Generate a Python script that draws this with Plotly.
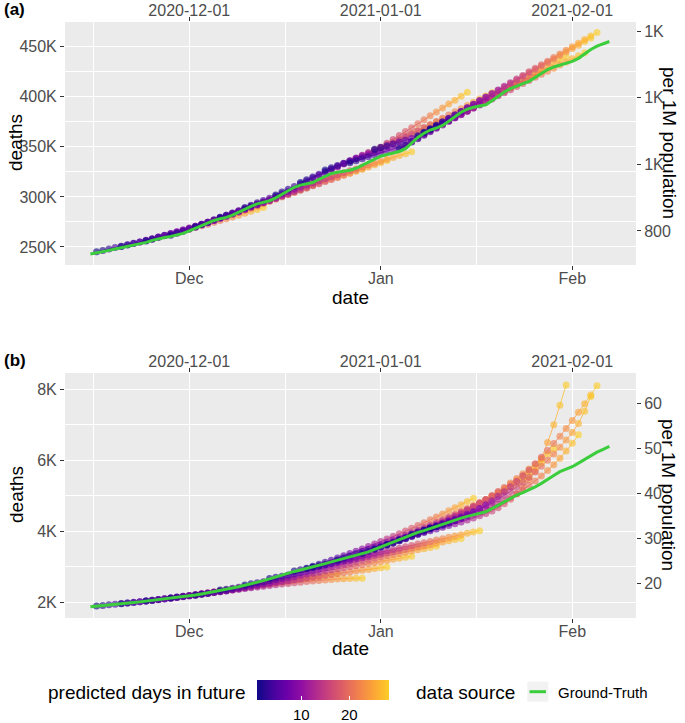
import pandas as pd
import plotly.graph_objects as go
from plotly.colors import sample_colorscale

# ---------------- data ----------------
TRUTH_START = "2020-11-15"

# (a) ground truth, cumulative deaths in thousands, daily from 2020-11-15
us_truth_k = [
    243.0, 244.0, 245.3, 246.6, 247.9, 249.2, 250.5, 251.4, 252.6, 254.6,
    256.6, 258.3, 259.4, 260.6, 261.8, 263.6, 266.2, 268.9, 271.6, 274.2,
    276.5, 278.2, 279.6, 281.8, 284.9, 287.8, 290.6, 293.0, 294.6, 296.2,
    299.0, 302.6, 306.2, 309.6, 311.8, 313.0, 314.4, 317.6, 320.8, 323.4,
    324.6, 325.6, 326.6, 328.6, 331.6, 335.2, 338.4, 340.6, 342.4, 343.8,
    345.4, 348.2, 353.6, 359.4, 363.6, 366.8, 368.8, 371.4, 375.6, 380.4,
    384.6, 387.6, 389.6, 390.8, 392.0, 396.0, 400.8, 404.8, 408.2, 411.0,
    413.2, 415.4, 419.6, 423.8, 427.2, 429.8, 431.6, 433.2, 435.4, 438.4,
    443.0, 447.2, 450.6, 453.2, 455.2,
]

# (b) ground truth, cumulative deaths, daily from 2020-11-15
jp_truth = [
    1876, 1890, 1906, 1924, 1941, 1958, 1975, 1994, 2012, 2033,
    2057, 2082, 2100, 2115, 2132, 2152, 2177, 2205, 2236, 2267,
    2298, 2340, 2368, 2400, 2440, 2482, 2520, 2568, 2610, 2660,
    2716, 2772, 2830, 2870, 2910, 2950, 2990, 3040, 3090, 3140,
    3185, 3225, 3265, 3310, 3365, 3420, 3490, 3560, 3620, 3690,
    3760, 3845, 3915, 3970, 4020, 4080, 4140, 4205, 4270, 4320,
    4370, 4420, 4460, 4500, 4550, 4640, 4740, 4840, 4930, 5020,
    5090, 5160, 5250, 5350, 5450, 5570, 5680, 5750, 5820, 5920,
    6030, 6140, 6230, 6310, 6390,
]

horizons = list(range(1, 29))  # predicted days in future

# (a) forecasts: first predicted date and 28 daily values (thousands)
us_forecast_starts = [
    "2020-11-16", "2020-11-20", "2020-11-24", "2020-11-28", "2020-12-02",
    "2020-12-06", "2020-12-10", "2020-12-15", "2020-12-19", "2020-12-23",
    "2020-12-27", "2020-12-31", "2021-01-04", "2021-01-07", "2021-01-08",
    "2021-01-09",
]
us_forecasts_k = [
    [245.2, 246.6, 248.0, 249.4, 250.8, 252.2, 253.6, 255.0, 256.5, 258.0, 259.6, 261.2, 262.8, 264.4,
     266.0, 267.7, 269.4, 271.1, 272.8, 274.6, 276.4, 278.2, 280.0, 281.8, 283.7, 285.6, 287.5, 289.4],
    [250.4, 251.9, 253.4, 255.0, 256.6, 258.2, 259.9, 261.6, 263.4, 265.2, 267.0, 268.9, 270.8, 272.7,
     274.7, 276.7, 278.8, 280.9, 283.0, 285.2, 287.4, 289.6, 291.9, 294.2, 296.5, 298.9, 301.3, 303.7],
    [256.0, 257.8, 259.6, 261.4, 263.2, 265.0, 266.9, 268.8, 270.7, 272.6, 274.6, 276.6, 278.6, 280.6,
     282.7, 284.8, 286.9, 289.0, 291.1, 293.3, 295.5, 297.7, 299.9, 302.1, 304.4, 306.7, 309.0, 311.3],
    [261.8, 263.8, 265.8, 267.9, 270.0, 272.1, 274.2, 276.4, 278.6, 280.8, 283.0, 285.2, 287.5, 289.8,
     292.1, 294.4, 296.7, 299.0, 301.4, 303.8, 306.2, 308.6, 311.0, 313.4, 315.8, 318.2, 320.6, 323.0],
    [270.2, 272.5, 274.8, 277.1, 279.4, 281.7, 284.0, 286.2, 288.4, 290.6, 292.8, 295.0, 297.2, 299.4,
     301.5, 303.6, 305.7, 307.8, 309.9, 312.0, 314.0, 316.0, 318.0, 320.0, 322.0, 324.0, 326.0, 328.0],
    [279.6, 281.7, 283.8, 285.9, 288.0, 290.1, 292.2, 294.3, 296.4, 298.5, 300.6, 302.7, 304.8, 306.9,
     309.0, 311.1, 313.2, 315.3, 317.4, 319.5, 321.6, 323.7, 325.8, 327.9, 330.0, 332.1, 334.2, 336.3],
    [289.5, 291.8, 294.1, 296.4, 298.7, 301.0, 303.2, 305.4, 307.6, 309.8, 311.9, 314.0, 316.1, 318.2,
     320.2, 322.2, 324.2, 326.1, 328.0, 329.9, 331.8, 333.7, 335.6, 337.5, 339.4, 341.3, 343.2, 345.1],
    [302.0, 304.8, 307.6, 310.4, 313.2, 316.0, 318.8, 321.6, 324.4, 327.2, 330.0, 332.8, 335.6, 338.4,
     341.2, 344.0, 346.8, 349.6, 352.4, 355.2, 358.0, 360.8, 363.6, 366.4, 369.2, 372.0, 374.8, 377.6],
    [314.5, 317.2, 319.9, 322.6, 325.3, 328.0, 330.7, 333.4, 336.1, 338.8, 341.5, 344.2, 346.9, 349.6,
     353.5, 357.4, 361.4, 365.3, 369.2, 373.1, 377.0, 381.0, 384.9, 388.8, 392.7, 396.6, 400.6, 404.5],
    [327.0, 329.2, 331.4, 333.6, 335.8, 338.0, 340.2, 342.4, 344.6, 346.8, 350.0, 353.2, 356.3, 359.5,
     362.7, 365.9, 369.1, 372.2, 375.4, 378.6, 381.8, 385.0, 388.1, 391.3, 394.5, 397.7, 400.9, 404.0],
    [334.0, 336.0, 338.0, 340.0, 342.0, 344.0, 346.0, 348.0, 350.0, 352.0, 355.4, 358.9, 362.3, 365.8,
     369.2, 372.6, 376.1, 379.5, 383.0, 386.4, 389.8, 393.3, 396.7, 400.2, 403.6, 407.0, 410.5, 414.0],
    [347.5, 349.3, 351.1, 352.9, 354.7, 356.5, 358.3, 360.1, 363.3, 366.6, 369.8, 373.1, 376.3, 379.6,
     382.8, 386.1, 389.3, 392.5, 395.8, 399.0, 402.3, 405.5, 408.8, 412.0, 415.3, 418.5, 421.8, 425.0],
    [348.0, 351.4, 354.8, 358.2, 361.6, 365.0, 368.5, 371.9, 375.3, 378.7, 382.1, 385.5, 388.9, 392.3,
     395.7, 399.1, 402.5, 405.9, 409.4, 412.8, 416.2, 419.6, 423.0, 426.4, 429.8, 433.2, 436.6, 440.0],
    [361.0, 364.1, 367.1, 370.2, 373.3, 376.4, 379.4, 382.5, 385.6, 388.7, 391.7, 394.8, 397.9, 401.0,
     404.0, 407.1, 410.2, 413.3, 416.3, 419.4, 422.5, 425.6, 428.6, 431.7, 434.8, 437.9, 440.9, 444.0],
    [364.5, 368.0, 371.5, 374.9, 378.4, 381.9, 385.4, 388.9, 392.4, 395.9, 399.4, 402.8, 406.3, 409.8,
     413.3, 416.8, 420.3, 423.8, 427.2, 430.7, 434.2, 437.7, 441.2, 444.7, 448.2, 451.6, 455.1, 458.6],
    [367.5, 371.1, 374.7, 378.3, 381.8, 385.4, 389.0, 392.6, 396.2, 399.8, 403.4, 406.9, 410.5, 414.1,
     417.7, 421.3, 424.9, 428.5, 432.0, 435.6, 439.2, 442.8, 446.4, 450.0, 453.6, 457.1, 460.7, 464.3],
]

# (b) forecasts: first predicted date and 28 daily values
jp_forecast_starts = [
    "2020-11-16", "2020-11-20", "2020-11-24", "2020-11-28", "2020-12-02",
    "2020-12-06", "2020-12-10", "2020-12-14", "2020-12-18", "2020-12-20",
    "2020-12-21", "2020-12-25", "2020-12-29", "2020-12-31", "2021-01-02",
    "2021-01-04", "2021-01-06", "2021-01-08", "2021-01-09",
]
jp_forecasts = [
    [1895, 1911, 1928, 1945, 1963, 1981, 2000, 2019, 2039, 2059, 2080, 2101, 2123, 2145,
     2168, 2191, 2215, 2239, 2264, 2289, 2315, 2341, 2368, 2395, 2423, 2451, 2480, 2509],
    [1962, 1979, 1997, 2015, 2034, 2053, 2073, 2093, 2114, 2135, 2157, 2179, 2202, 2225,
     2249, 2273, 2298, 2323, 2349, 2375, 2402, 2429, 2457, 2485, 2514, 2543, 2573, 2603],
    [2040, 2060, 2081, 2102, 2124, 2146, 2169, 2192, 2216, 2240, 2265, 2290, 2316, 2342,
     2368, 2394, 2420, 2446, 2472, 2498, 2524, 2550, 2576, 2602, 2628, 2654, 2680, 2706],
    [2120, 2142, 2165, 2188, 2212, 2236, 2261, 2286, 2311, 2336, 2362, 2388, 2414, 2440,
     2466, 2492, 2518, 2544, 2570, 2596, 2622, 2648, 2674, 2700, 2726, 2752, 2778, 2804],
    [2200, 2225, 2250, 2274, 2298, 2322, 2345, 2368, 2390, 2412, 2433, 2454, 2474, 2494,
     2513, 2532, 2550, 2568, 2585, 2601, 2616, 2630, 2643, 2655, 2665, 2673, 2677, 2680],
    [2345, 2371, 2397, 2422, 2447, 2472, 2497, 2521, 2545, 2569, 2593, 2617, 2641, 2665,
     2689, 2713, 2737, 2761, 2785, 2809, 2833, 2857, 2880, 2903, 2926, 2949, 2972, 2995],
    [2490, 2520, 2550, 2580, 2610, 2640, 2670, 2700, 2730, 2760, 2790, 2820, 2850, 2880,
     2910, 2940, 2970, 3000, 3030, 3060, 3090, 3120, 3150, 3180, 3210, 3240, 3270, 3300],
    [2670, 2704, 2737, 2771, 2805, 2839, 2872, 2906, 2940, 2973, 3007, 3041, 3074, 3108,
     3142, 3175, 3209, 3243, 3276, 3310, 3344, 3377, 3411, 3445, 3479, 3512, 3546, 3580],
    [2880, 2914, 2948, 2982, 3016, 3050, 3085, 3119, 3153, 3187, 3221, 3255, 3289, 3323,
     3357, 3391, 3425, 3459, 3493, 3527, 3562, 3596, 3630, 3664, 3698, 3732, 3766, 3800],
    [2960, 3015, 3071, 3129, 3188, 3249, 3311, 3374, 3439, 3505, 3572, 3641, 3711, 3783,
     3856, 3930, 4006, 4083, 4162, 4242, 4323, 4406, 4490, 4576, 4663, 4751, 4841, 4932],
    [2995, 3033, 3071, 3109, 3147, 3185, 3223, 3260, 3298, 3336, 3374, 3412, 3450, 3488,
     3526, 3563, 3601, 3639, 3677, 3715, 3753, 3791, 3829, 3866, 3904, 3942, 3980, 4018],
    [3190, 3248, 3307, 3367, 3429, 3491, 3555, 3619, 3685, 3752, 3820, 3889, 3960, 4031,
     4104, 4177, 4252, 4328, 4405, 4483, 4562, 4642, 4724, 4806, 4890, 4975, 5061, 5148],
    [3375, 3437, 3500, 3565, 3631, 3699, 3768, 3838, 3910, 3984, 4059, 4135, 4213, 4292,
     4372, 4454, 4537, 4622, 4708, 4795, 4884, 4974, 5066, 5159, 5254, 5350, 5447, 5546],
    [3495, 3550, 3608, 3668, 3731, 3797, 3865, 3936, 4010, 4087, 4166, 4248, 4333, 4420,
     4510, 4603, 4698, 4796, 4897, 5000, 5106, 5215, 5326, 5440, 5557, 5677, 5799, 5924],
    [3630, 3680, 3734, 3792, 3853, 3918, 3987, 4060, 4137, 4218, 4303, 4391, 4483, 4579,
     4679, 4783, 4891, 5003, 5118, 5237, 5360, 5487, 5618, 5752, 5891, 6033, 6179, 6329],
    [3765, 3815, 3865, 3915, 3965, 4015, 4065, 4115, 4165, 4215, 4265, 4320, 4375, 4435,
     4500, 4575, 4665, 4775, 4905, 5060, 5240, 5450, 5690, 6050, 6500, 7000, 7550, 8121],
    [3920, 3975, 4030, 4085, 4140, 4195, 4250, 4306, 4362, 4420, 4480, 4545, 4615, 4690,
     4772, 4860, 4955, 5058, 5170, 5290, 5420, 5560, 5712, 5878, 6060, 6260, 6480, 6720],
    [4030, 4090, 4150, 4212, 4276, 4342, 4410, 4480, 4555, 4635, 4720, 4812, 4910, 5015,
     5128, 5250, 5380, 5520, 5670, 5830, 6000, 6180, 6370, 6570, 6780, 7040, 7380, 7800],
    [4085, 4125, 4173, 4230, 4295, 4368, 4450, 4540, 4639, 4746, 4861, 4985, 5117, 5257,
     5406, 5563, 5728, 5902, 6084, 6274, 6473, 6680, 6896, 7120, 7352, 7593, 7842, 8100],
]

US_POP_M = 332.5   # population in millions (secondary axis)
JP_POP_M = 126.5

month_ticks = ["2020-12-01", "2021-01-01", "2021-02-01"]
month_labels = ["Dec", "Jan", "Feb"]
us_ticks = [250000, 300000, 350000, 400000, 450000]
us_tick_labels = ["250K", "300K", "350K", "400K", "450K"]
us_pm_ticks = [800, 1000, 1200, 1400]
us_pm_labels = ["800", "1K", "1K", "1K"]
jp_ticks = [2000, 4000, 6000, 8000]
jp_tick_labels = ["2K", "4K", "6K", "8K"]
jp_pm_ticks = [20, 30, 40, 50, 60]
jp_pm_labels = ["20", "30", "40", "50", "60"]
colorbar_ticks = [10, 20]

# ---------------- styling ----------------
PLASMA = ['#0d0887', '#41049d', '#6a00a8', '#8f0da4', '#b12a90',
          '#cc4778', '#e16462', '#f2844b', '#fca636', '#fcce25']
CSCALE = [[i / (len(PLASMA) - 1), c] for i, c in enumerate(PLASMA)]
FONT = "Liberation Sans, Arial, Helvetica, sans-serif"
GREEN = "#3ccd3c"
L, R, T, B = 65, 636, 22, 618
W, H = 685, 723
CB_X0, CB_X1 = 256.7, 389.0      # colour bar pixel extent
CB_V0, CB_V1 = 0.7, 28.1          # values at the bar edges


def xp(px):
    return (px - L) / (R - L)


def yp(py):
    return (B - py) / (B - T)


X_RANGE = ["2020-11-10 21:20", "2021-02-11 07:30"]
truth_dates = pd.date_range(TRUTH_START, periods=len(us_truth_k), freq="D").strftime("%Y-%m-%d").tolist()


def dates_for(start, n):
    return pd.date_range(start, periods=n, freq="D").strftime("%Y-%m-%d").tolist()


def forecast_traces(starts, values, scale, xa, ya, show_scale):
    traces = []
    for h in horizons[:-1]:
        xs, ys = [], []
        for s, vals in zip(starts, values):
            d = dates_for(s, len(vals))
            xs += [d[h - 1], d[h], None]
            ys += [vals[h - 1] * scale, vals[h] * scale, None]
        col = sample_colorscale(CSCALE, (h - 1) / (len(horizons) - 1))[0]
        traces.append(go.Scatter(x=xs, y=ys, mode="lines", line=dict(color=col, width=1.0),
                                 opacity=0.75, xaxis=xa, yaxis=ya, showlegend=False,
                                 hoverinfo="skip"))
    px_, py_, hz = [], [], []
    for s, vals in zip(starts, values):
        d = dates_for(s, len(vals))
        for h, dd, v in zip(horizons, d, vals):
            px_.append(dd)
            py_.append(v * scale)
            hz.append(h)
    marker = dict(size=7, color=hz, colorscale=CSCALE, cmin=CB_V0, cmax=CB_V1, opacity=0.62,
                  line=dict(width=0), showscale=show_scale)
    if show_scale:
        marker["colorbar"] = dict(
            orientation="h", x=xp(CB_X0), xanchor="left", y=yp(691.7), yanchor="middle",
            len=CB_X1 - CB_X0, lenmode="pixels", thickness=20, thicknessmode="pixels",
            xpad=0, ypad=0, outlinewidth=0, tickvals=colorbar_ticks, ticks="inside",
            tickcolor="white", ticklen=4, tickwidth=1, showticklabels=False)
    traces.append(go.Scatter(x=px_, y=py_, mode="markers", marker=marker, xaxis=xa,
                             yaxis=ya, showlegend=False, name="forecast"))
    return traces


fig = go.Figure()
for t in forecast_traces(us_forecast_starts, us_forecasts_k, 1000, "x", "y", True):
    fig.add_trace(t)
fig.add_trace(go.Scatter(x=truth_dates, y=[v * 1000 for v in us_truth_k], mode="lines",
                         line=dict(color=GREEN, width=3), name="Ground-Truth",
                         xaxis="x", yaxis="y", showlegend=False))
for t in forecast_traces(jp_forecast_starts, jp_forecasts, 1, "x2", "y2", False):
    fig.add_trace(t)
fig.add_trace(go.Scatter(x=truth_dates, y=jp_truth, mode="lines",
                         line=dict(color=GREEN, width=3), name="Ground-Truth",
                         xaxis="x2", yaxis="y2", showlegend=False))
# invisible anchors for the secondary (top / right) axes
fig.add_trace(go.Scatter(x=[truth_dates[0]], y=[us_truth_k[0] * 1000 / US_POP_M / 1000],
                         mode="markers", marker=dict(opacity=0), xaxis="x3", yaxis="y3",
                         showlegend=False, hoverinfo="skip"))
fig.add_trace(go.Scatter(x=[truth_dates[0]], y=[jp_truth[0] / JP_POP_M],
                         mode="markers", marker=dict(opacity=0), xaxis="x4", yaxis="y4",
                         showlegend=False, hoverinfo="skip"))

tickfont = dict(family=FONT, size=16, color="#4d4d4d")
minor_x = dict(tickvals=["2020-11-15 12:00", "2020-12-16 12:00", "2021-01-16 12:00"],
               showgrid=True, gridcolor="white", gridwidth=0.6)


def bottom_x(anchor):
    return dict(type="date", range=X_RANGE, anchor=anchor, tickmode="array",
                tickvals=month_ticks, ticktext=month_labels, ticks="outside", ticklen=4,
                tickcolor="#333333", tickwidth=1, showgrid=True, gridcolor="white",
                gridwidth=1.2, minor=minor_x, zeroline=False, showline=False,
                tickfont=tickfont, domain=[0, 1], automargin=False, ticklabelstandoff=-5)


def top_x(overlay, anchor):
    return dict(type="date", range=X_RANGE, overlaying=overlay, anchor=anchor, side="top",
                tickmode="array", tickvals=month_ticks, ticktext=month_ticks,
                ticks="outside", ticklen=4, tickcolor="#333333", tickwidth=1,
                showgrid=False, zeroline=False, showline=False, tickfont=tickfont,
                automargin=False, ticklabelstandoff=-5)


us_range = [232000, 474700]
jp_range = [1558, 8459]

fig.update_layout(
    width=W, height=H, autosize=False,
    margin=dict(l=L, r=W - R, t=T, b=H - B, pad=0),
    paper_bgcolor="white", plot_bgcolor="#ebebeb",
    font=dict(family=FONT, color="black"),
    showlegend=False,
    xaxis=bottom_x("y"),
    xaxis2=bottom_x("y2"),
    xaxis3=top_x("x", "y"),
    xaxis4=top_x("x2", "y2"),
    yaxis=dict(domain=[yp(265), 1], anchor="x", range=us_range, tickmode="array",
               tickvals=us_ticks, ticktext=us_tick_labels, ticks="outside", ticklen=4,
               tickcolor="#333333", showgrid=True, gridcolor="white", gridwidth=1.2,
               minor=dict(tickvals=[275000, 325000, 375000, 425000], showgrid=True,
                          gridcolor="white", gridwidth=0.6),
               zeroline=False, tickfont=tickfont, automargin=False),
    yaxis2=dict(domain=[0, yp(373)], anchor="x2", range=jp_range, tickmode="array",
                tickvals=jp_ticks, ticktext=jp_tick_labels, ticks="outside", ticklen=4,
                tickcolor="#333333", showgrid=True, gridcolor="white", gridwidth=1.2,
                minor=dict(tickvals=[3000, 5000, 7000], showgrid=True,
                           gridcolor="white", gridwidth=0.6),
                zeroline=False, tickfont=tickfont, automargin=False),
    yaxis3=dict(overlaying="y", anchor="x", side="right",
                range=[us_range[0] / US_POP_M, us_range[1] / US_POP_M],
                tickmode="array", tickvals=us_pm_ticks, ticktext=us_pm_labels,
                ticks="outside", ticklen=4, tickcolor="#333333", showgrid=False,
                zeroline=False, tickfont=tickfont, automargin=False),
    yaxis4=dict(overlaying="y2", anchor="x2", side="right",
                range=[jp_range[0] / JP_POP_M, jp_range[1] / JP_POP_M],
                tickmode="array", tickvals=jp_pm_ticks, ticktext=jp_pm_labels,
                ticks="outside", ticklen=4, tickcolor="#333333", showgrid=False,
                zeroline=False, tickfont=tickfont, automargin=False),
)

ann = []


def add_text(text, px, py, size, xanchor="center", angle=0, bold=False, color="black"):
    ann.append(dict(text=f"<b>{text}</b>" if bold else text, x=xp(px), y=yp(py),
                    xref="paper", yref="paper", xanchor=xanchor, yanchor="middle",
                    showarrow=False, textangle=angle, borderpad=0,
                    font=dict(family=FONT, size=size, color=color)))


add_text("(a)", 3, 10, 17, xanchor="left", bold=True)
add_text("(b)", 3, 360, 17, xanchor="left", bold=True)
add_text("date", 350.5, 297, 19)
add_text("date", 350.5, 648, 19)
add_text("deaths", 16, 143, 19, angle=-90)
add_text("deaths", 16, 495, 19, angle=-90)
add_text("per 1M population", 669, 143, 19, angle=90)
add_text("per 1M population", 669, 495, 19, angle=90)
add_text("predicted days in future", 247, 692, 19, xanchor="right")
add_text("data source", 415, 692, 19, xanchor="left")
add_text("Ground-Truth", 557, 692, 15, xanchor="left")
for v in colorbar_ticks:
    add_text(str(v), CB_X0 + (v - CB_V0) / (CB_V1 - CB_V0) * (CB_X1 - CB_X0), 714, 15)
fig.update_layout(annotations=ann)

fig.add_shape(type="rect", xref="paper", yref="paper", x0=xp(527.3), x1=xp(548.3),
              y0=yp(701.7), y1=yp(681.7), fillcolor="#f2f2f2", line=dict(width=0))
fig.add_shape(type="line", xref="paper", yref="paper", x0=xp(529.5), x1=xp(546),
              y0=yp(691.7), y1=yp(691.7), line=dict(color=GREEN, width=3))

fig.write_html("out.html", config={"displayModeBar": False},
               post_script="document.body.style.margin='0px';document.body.style.overflow='hidden';")
